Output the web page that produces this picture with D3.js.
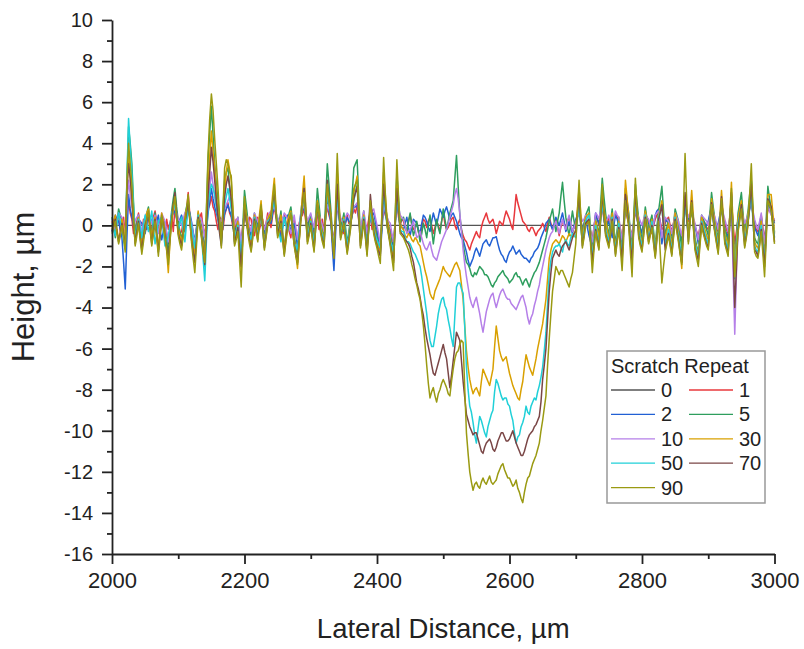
<!DOCTYPE html>
<html>
<head>
<meta charset="utf-8">
<script src="https://cdn.jsdelivr.net/npm/d3@7"></script>
<style>
  body { margin: 0; background: #fff; }
  svg { font-family: "Liberation Sans", Arial, sans-serif; }
</style>
</head>
<body>
<svg width="804" height="649"></svg>
<script>
// scan positions, every 2.5 um
const distance = d3.range(2000, 3000.1, 2.5);

const repeats = ['0', '1', '2', '5', '10', '30', '50', '70', '90'];
const colors = ['#555555', '#e8383d', '#2160d4', '#2e9e5e', '#b57fe8', '#d9a000', '#20d0d8', '#7a4646', '#9a9a12'];

// heights at 2000, 2005, 2010 ... 3000 um
const h0 = [
  0,0,0,0,0,0,0,0,0,0, 0,0,0,0,0,0,0,0,0,0,
  0,0,0,0,0,0,0,0,0,0, 0,0,0,0,0,0,0,0,0,0,
  0,0,0,0,0,0,0,0,0,0, 0,0,0,0,0,0,0,0,0,0,
  0,0,0,0,0,0,0,0,0,0, 0,0,0,0,0,0,0,0,0,0,
  0,0,0,0,0,0,0,0,0,0, 0,0,0,0,0,0,0,0,0,0,
  0,0,0,0,0,0,0,0,0,0, 0,0,0,0,0,0,0,0,0,0,
  0,0,0,0,0,0,0,0,0,0, 0,0,0,0,0,0,0,0,0,0,
  0,0,0,0,0,0,0,0,0,0, 0,0,0,0,0,0,0,0,0,0,
  0,0,0,0,0,0,0,0,0,0, 0,0,0,0,0,0,0,0,0,0,
  0,0,0,0,0,0,0,0,0,0, 0,0,0,0,0,0,0,0,0,0,
  0
];
const h1 = [
  0.2, -0.4, 0.5, 0.1, -0.6, 1.2, 0.3, -0.2, 0.6, -0.5,
  0.1, 0.4, -0.3, 0.7, -0.1, 0.3, -0.6, -0.2, 0.5, 0.9,
  0.2, -0.3, 0.4, 1.6, -0.4, -1.3, 0.2, 0.6, -0.5, 0.8,
  1.4, 0.7, -0.2, 0.3, 0.5, 1.1, 0.4, -0.3, 0.2, -0.8,
  0.6, -0.2, 0.3, -0.5, 0.4, 0.1, -0.3, 0.6, -0.1, 0.9,
  0.2, -0.4, 0.5, 0.0, -0.6, 0.3, -0.9, 0.4, 0.8, -0.2,
  0.3, -0.5, 0.6, 0.1, -0.3, 0.9, 0.2, -0.7, 1.0, 0.0,
  -0.4, 0.5, 0.2, 0.8, 1.0, -0.3, 0.4, -0.2, 0.6, 0.1,
  -0.5, -0.8, 0.9, 0.3, -0.2, -0.9, 1.1, 0.0, 0.2, -0.3,
  0.5, -0.2, 0.1, -0.6, 0.3, -0.1, 0.4, -0.4, 0.2, -0.3,
  0.6, -0.2, 0.1, 0.4, -0.2, 0.3, -0.5, -0.8, -1.2, -0.7,
  -0.3, -0.6, 0.2, 0.6, 0.1, 0.3, -0.4, 0.2, 0.0, 0.7,
  0.3, -0.2, 1.5, 0.8, 0.2, 0.0, -0.3, -0.1, -0.5, -0.2,
  0.1, -0.3, 0.4, -0.2, 0.3, -0.5, 0.2, -0.1, 0.4, -0.3,
  0.2, 0.6, -0.4, 0.3, 0.1, -0.7, 0.5, 0.0, 0.9, -0.2,
  0.4, -0.3, 0.6, 0.2, -0.6, 0.8, 0.1, -0.5, 0.7, 0.0,
  -0.3, 0.5, 0.2, -0.4, 0.3, 0.6, -0.2, 0.1, 0.4, -0.3,
  0.5, 0.0, -0.6, 0.9, 0.2, 0.6, -0.1, -0.5, 0.3, 0.1,
  -0.2, 0.7, 0.2, -0.3, 0.8, 0.1, -0.4, 1.2, -0.9, 0.3,
  0.6, -0.2, 0.4, 1.1, 0.0, -0.3, 0.5, -0.7, 0.8, 0.6,
  0.2
];
const h2 = [
  -0.3, 0.5, 0.2, -0.6, -3.1, 1.5, 0.4, -0.5, 0.3, 0.1,
  -0.4, 0.6, 0.2, -0.2, 0.5, -0.7, 0.1, -0.9, 0.4, 0.7,
  0.0, 0.5, -0.3, 0.9, 0.2, -0.8, 0.4, -0.2, -1.1, 0.6,
  1.8, 0.9, 0.3, -0.4, 0.6, 1.0, 0.5, -0.3, 0.1, -1.2,
  0.7, 0.2, -0.5, 0.4, 0.0, 0.6, -0.4, 0.3, 0.1, 1.0,
  0.3, -0.6, 0.2, 0.5, -0.3, 0.1, -1.0, 0.4, 0.9, 0.0,
  0.5, -0.2, 0.8, 0.2, -0.5, 1.2, 0.3, -2.2, 1.1, 0.2,
  -0.3, 0.4, 0.1, 0.9, 1.0, -0.4, 0.5, -0.6, 0.3, 0.6,
  -0.2, -1.4, 1.0, 0.2, -0.5, -1.0, 1.2, 0.1, -0.2, 0.4,
  -0.5, 0.3, 0.1, -0.4, 0.5, 0.2, -0.3, 0.6, 0.0, 0.8,
  0.4, 0.9, 0.3, 0.6, 0.2, -0.4, -0.7, -1.3, -2.0, -1.6,
  -1.1, -1.5, -0.9, -0.7, -1.0, -0.6, -0.55, -1.2, -1.5, -1.8,
  -1.3, -1.0, -1.4, -1.2, -1.5, -1.6, -1.8, -1.5, -1.2, -0.9,
  -0.4, 0.1, 0.3, -0.2, 0.4, 0.0, 0.6, -0.3, 0.2, -0.4,
  0.3, 0.8, -0.2, 0.4, -0.5, -1.1, 0.6, 0.1, 1.2, -0.3,
  0.2, -0.6, 0.5, 0.0, -1.0, 0.9, 0.3, -0.8, 1.0, 0.2,
  -0.4, 0.6, 0.1, -0.3, 0.5, 0.8, -0.9, 0.3, 0.2, -0.5,
  0.4, -0.2, -0.8, 1.1, 0.3, 0.7, 0.0, -0.9, 0.4, -0.1,
  0.2, 0.9, -0.3, 0.1, 0.8, -0.2, -0.6, 1.3, -1.8, 0.4,
  0.9, -0.4, 0.2, 1.4, -0.1, -0.5, 0.3, -1.2, 1.1, 0.7,
  0.1
];
const h5 = [
  0.4, -0.6, 0.8, 0.2, -1.0, 4.8, 3.0, -0.4, 0.5, -0.8,
  0.3, 0.9, -0.5, 0.6, -1.2, 0.4, 0.1, -1.4, 0.7, 1.8,
  0.2, -0.7, 0.5, 1.2, -0.3, -1.6, 0.6, 0.0, -2.0, 3.2,
  5.8, 3.0, 1.2, -0.6, 2.2, 2.8, 1.0, -0.8, 0.4, -1.7,
  1.7, 0.3, -0.9, 0.6, -0.2, 0.8, -0.7, 0.2, 0.5, 1.6,
  -0.4, 0.7, -1.1, 0.3, 0.9, -0.5, -1.5, 0.6, 2.0, -0.3,
  0.5, -0.8, 1.8, 0.2, -0.6, 3.0, 0.9, -1.3, 1.4, -0.2,
  0.6, -0.9, 0.3, 2.8, 3.2, -0.5, 0.7, -1.0, 0.9, 0.2,
  -0.6, -1.2, 1.4, 0.5, -0.4, -1.5, 2.5, 0.1, 0.4, -0.3,
  0.6, -0.5, 0.2, -0.8, 0.1, -0.6, 0.5, -0.9, 0.3, -0.4,
  0.8, -0.2, 0.6, 1.2, 3.4, 0.5, -0.9, -1.8, -2.1, -2.5,
  -2.4, -2.0, -2.2, -2.4, -2.7, -3.0, -2.7, -2.4, -2.2, -2.5,
  -2.8, -2.6, -2.3, -2.5, -2.9, -2.6, -3.0, -2.5, -2.2, -1.8,
  -1.2, -0.6, 0.2, 0.8, -0.3, 0.6, 2.1, 0.4, -0.5, 0.7,
  -0.2, 1.2, -0.6, 0.5, 0.9, -1.4, 0.3, -0.4, 2.3, 0.6,
  -0.5, 0.8, -0.9, 0.4, -1.5, 1.8, 0.6, -1.2, 2.0, 0.3,
  -0.7, 0.9, -0.2, 0.5, -1.0, 0.7, 1.9, -0.5, 0.3, -0.9,
  0.8, 0.2, -1.1, 1.4, -0.3, 0.9, -0.6, -1.3, 0.5, 0.1,
  -0.5, 1.6, 0.3, -0.7, 1.2, -0.2, -0.8, 1.5, -2.0, 0.6,
  1.6, -0.4, 0.7, 2.2, -0.6, -0.9, 0.4, -1.4, 1.9, 0.8,
  -0.3
];
const h10 = [
  0.3, -0.2, 0.6, 0.4, -0.5, 2.2, 0.9, 0.2, 0.5, -0.3,
  0.4, 0.7, 0.1, 0.5, -0.4, 0.6, 0.2, -0.8, 0.4, 0.9,
  0.3, 0.0, 0.6, 0.8, 0.1, -0.9, 0.5, 0.3, -0.6, 0.9,
  2.6, 1.4, 0.5, 0.2, 0.8, 1.2, 1.5, 0.0, 0.4, -0.9,
  0.8, 0.3, -0.3, 0.6, 0.2, 0.5, -0.2, 0.4, 0.7, 0.9,
  0.4, 0.0, 0.6, 0.3, -0.4, 0.5, -0.7, 0.6, 1.0, 0.2,
  0.6, -0.1, 0.8, 0.3, -0.3, 1.0, 0.5, -0.9, 0.9, 0.4,
  0.1, 0.6, 0.3, 0.9, 1.1, -0.2, 0.7, -0.4, 0.5, 0.8,
  0.0, -0.9, 1.0, 0.4, 0.1, -0.8, 1.2, 0.5, 0.3, -0.4,
  -0.2, 0.2, -0.6, -0.3, -0.9, -1.2, -0.8, -1.5, -1.7, -1.1,
  -0.6, -0.2, 0.4, 1.0, 1.8, 0.6, -1.2, -2.5, -3.5, -4.0,
  -3.5, -4.3, -5.2, -4.2, -3.6, -3.3, -4.0, -3.4, -3.1, -3.5,
  -3.6, -3.9, -4.1, -3.7, -3.4, -4.0, -4.8, -4.3, -3.6, -2.9,
  -2.0, -1.2, -0.6, -0.3, 0.2, -0.4, 0.3, -0.2, 0.5, -0.3,
  0.1, 0.7, 0.2, 0.5, 0.0, -0.8, 0.6, 0.3, 1.0, 0.2,
  0.5, -0.2, 0.7, 0.4, -0.7, 0.9, 0.3, -0.6, 0.8, 0.4,
  0.0, 0.6, 0.3, -0.3, 0.5, 0.7, -0.6, 0.4, 0.2, -0.4,
  0.6, 0.2, -0.5, 1.0, 0.4, 0.8, 0.1, -0.7, 0.5, 0.3,
  0.0, 0.8, 0.4, -0.2, 0.9, 0.3, -0.3, 1.0, -5.3, 0.2,
  0.7, 0.1, 0.5, 1.2, 0.3, -0.2, 0.6, -0.9, 0.9, 0.5,
  0.3
];
const h30 = [
  -0.2, 0.5, -0.7, 0.3, -0.9, 3.5, 1.2, -0.6, 0.4, -1.0,
  0.2, 0.8, -0.6, 0.4, -1.1, 0.6, -0.3, -2.3, 0.5, 1.2,
  -0.1, -0.8, 0.4, 1.0, -0.5, -1.4, 0.7, -0.2, -1.6, 1.8,
  4.6, 2.8, 0.6, -0.7, 1.6, 3.2, 2.2, -0.6, 0.2, -2.2,
  1.0, 0.1, -1.0, 0.5, -0.4, 1.2, -0.9, 0.3, 0.6, 2.3,
  -0.3, 0.5, -1.2, 0.2, 0.7, -0.6, -2.1, 0.4, 2.4, -0.5,
  0.3, -1.0, 1.2, 0.0, -0.7, 1.8, 0.6, -1.4, 2.6, -0.3,
  0.4, -1.1, 0.2, 1.6, 2.4, -0.7, 0.5, -1.2, 0.8, 0.0,
  -0.8, -1.3, 2.6, 0.4, -0.6, -1.7, 2.0, 0.1, -0.2, -0.6,
  -0.5, -0.8, -0.7, -1.0, -1.8, -2.5, -3.3, -3.6, -3.0, -2.6,
  -2.0, -2.3, -2.5, -2.1, -1.8, -2.2, -3.6, -6.1, -7.5, -8.2,
  -7.9, -8.3, -7.0, -7.4, -7.8, -7.0, -4.9, -6.1, -6.6, -6.4,
  -7.2, -7.8, -8.2, -8.5, -7.6, -6.3, -6.9, -7.3, -6.5, -5.6,
  -4.8, -3.6, -1.6, -0.9, -0.7, -0.9, -0.5, -0.8, -0.4, -0.6,
  -0.2, 1.8, -0.7, 0.4, 0.6, -1.5, 0.2, -0.6, 1.4, 0.3,
  -0.7, 0.6, -1.1, 0.2, -1.6, 2.2, 0.4, -1.4, 1.5, 0.0,
  -0.9, 0.7, -0.4, 0.3, -1.2, 0.5, 1.2, -0.7, 0.1, -1.0,
  0.6, -0.3, -2.1, 1.2, -0.5, 1.7, -0.8, -1.4, 0.4, -0.2,
  -0.7, 1.3, 0.1, -0.9, 1.7, -0.4, -1.0, 2.1, -2.2, 0.4,
  1.2, -0.6, 0.5, 1.8, -0.8, -1.1, 0.2, -1.6, 1.5, 1.5,
  -0.4
];
const h50 = [
  0.1, -0.5, 0.6, -0.2, -1.2, 5.2, 2.5, -0.7, 0.3, -0.6,
  0.5, -0.3, 0.7, -0.9, 0.2, 0.4, -1.0, -0.5, 0.6, 1.0,
  -0.2, 0.4, -0.8, 0.9, 0.0, -1.1, 0.5, -0.4, -2.7, 1.0,
  2.0, 1.5, 0.3, -0.9, 1.0, 1.8, 0.8, -0.6, 0.0, -1.5,
  0.9, -0.3, -0.7, 0.4, -0.5, 0.6, -1.0, 0.2, 0.3, 1.2,
  0.0, -0.8, 0.4, -0.3, 0.6, -0.9, -1.2, 0.5, 1.4, -0.6,
  0.2, -0.9, 0.9, -0.2, -0.8, 1.6, 0.3, -1.2, 1.5, -0.5,
  0.3, -1.0, 0.0, 1.2, 2.0, -0.8, 0.4, -1.1, 0.6, -0.2,
  -0.7, -1.1, 1.6, 0.0, -0.8, -1.3, 1.4, -0.2, -0.3, -0.8,
  -0.9, -1.3, -1.6, -2.0, -3.1, -4.3, -5.6, -5.9, -4.9, -3.9,
  -3.5, -4.1, -5.0, -5.9, -3.0, -2.8, -3.3, -6.9, -8.8, -9.6,
  -10.6, -9.3, -9.8, -10.3, -9.5, -9.0, -7.5, -8.0, -8.5, -8.4,
  -8.8, -9.5, -10.6, -10.2, -9.6, -8.8, -9.2, -8.6, -8.5, -7.8,
  -6.9, -5.2, -2.3, -1.3, -1.0, -0.9, -1.3, -0.7, -1.0, -0.4,
  -0.6, 0.9, -0.8, 0.2, 0.5, -1.6, 0.0, -0.9, 1.1, -0.2,
  -0.8, 0.4, -1.2, 0.1, -1.4, 1.3, 0.2, -1.3, 1.2, -0.3,
  -1.0, 0.5, -0.6, 0.2, -1.3, 0.4, 0.9, -1.0, -0.2, -1.2,
  0.4, -0.5, -1.5, 1.1, -0.6, 1.0, -0.9, -1.5, 0.2, -0.4,
  -0.9, 1.0, -0.1, -1.1, 1.2, -0.6, -1.2, 1.4, -2.6, 0.1,
  0.9, -0.8, 0.3, 1.5, -1.0, -1.3, 0.0, -1.8, 1.2, 0.8,
  -0.6
];
const h70 = [
  -0.3, 0.3, -0.8, 0.1, -1.1, 3.0, 1.4, -0.9, 0.2, -1.2,
  0.0, 0.6, -0.9, 0.3, -1.3, 0.4, -0.5, -1.6, 0.3, 1.6,
  -0.4, -1.0, 0.2, 1.1, -0.7, -1.8, 0.4, -0.5, -1.9, 1.5,
  3.8, 2.2, 0.4, -1.0, 1.4, 2.4, 1.3, -0.9, -0.1, -2.0,
  0.8, -0.2, -1.2, 0.3, -0.7, 0.9, -1.1, 0.1, 0.4, 1.7,
  -0.5, 0.2, -1.4, 0.0, 0.5, -0.9, -1.8, 0.3, 1.8, -0.8,
  0.1, -1.2, 1.0, -0.3, -1.0, 2.2, 0.4, -1.6, 2.0, -0.6,
  0.2, -1.3, -0.1, 1.3, 1.9, -1.0, 0.3, -1.4, 1.5, -0.3,
  -1.0, -1.5, 2.0, 0.1, -0.9, -1.8, 1.8, -0.3, -0.5, -0.8,
  -1.1, -1.8, -2.8, -3.5, -4.4, -5.5, -6.3, -7.2, -7.0, -6.4,
  -5.8, -6.5, -7.9, -6.6, -5.2, -5.6, -7.6, -9.2, -9.8, -10.2,
  -10.1, -10.7, -11.1, -10.6, -10.4, -10.9, -10.8, -10.3, -10.1, -10.5,
  -10.4, -10.0, -10.6, -11.0, -11.2, -10.7, -10.2, -10.0, -9.7, -9.3,
  -7.5, -6.0, -3.2, -1.6, -1.2, -1.5, -1.0, -0.8, -1.2, -0.6,
  -0.3, 1.4, -1.0, 0.1, 0.3, -1.8, -0.2, -1.1, 1.6, -0.4,
  -1.0, 0.3, -1.4, -0.1, -1.7, 1.5, 0.0, -1.8, 1.7, -0.5,
  -1.2, 0.4, -0.8, 0.0, -1.5, 0.3, 1.0, -1.2, -0.4, -1.4,
  0.3, -0.7, -1.8, 1.6, -0.8, 1.2, -1.1, -1.7, 0.1, -0.6,
  -1.1, 1.1, -0.3, -1.3, 1.4, -0.8, -1.4, 1.6, -4.0, -0.2,
  1.0, -1.0, 0.1, 2.0, -1.2, -1.5, -0.2, -2.0, 1.3, 0.9,
  -0.8
];
const h90 = [
  -0.4, 0.2, -0.9, 0.0, -1.3, 4.0, 2.0, -1.0, 0.1, -1.4,
  -0.2, 0.7, -1.0, 0.2, -1.5, 0.5, -0.6, -1.9, 0.2, 1.4,
  -0.5, -1.2, 0.1, 1.5, -0.8, -2.3, 0.3, -0.6, -1.8, 3.5,
  6.4, 4.2, 1.8, -1.1, 2.8, 3.0, 2.4, -1.0, -0.3, -3.0,
  1.4, -0.4, -1.3, 0.2, -0.8, 1.0, -1.2, 0.0, 0.3, 2.0,
  -0.6, 0.1, -1.5, -0.2, 0.6, -1.0, -1.9, 0.2, 1.6, -0.9,
  0.0, -1.3, 1.1, -0.4, -1.1, 2.0, 0.5, -1.6, 3.5, -0.7,
  0.1, -1.4, -0.2, 1.8, 2.2, -1.1, 0.2, -1.5, 1.2, -0.4,
  -1.1, -1.85, 3.3, 0.0, -1.0, -2.2, 3.2, -0.4, -0.6, -1.0,
  -1.5, -2.2, -2.9, -3.6, -4.9, -6.8, -8.4, -7.9, -8.6, -8.0,
  -7.5, -7.9, -8.3, -7.0, -6.2, -5.8, -5.7, -10.1, -12.0, -12.9,
  -12.5, -12.8, -12.3, -12.6, -12.2, -12.6, -12.4, -11.9, -11.6, -12.1,
  -12.3, -12.7, -12.4, -13.0, -13.5, -12.6, -12.2, -11.6, -11.2, -10.6,
  -9.5, -8.3, -5.5, -3.2, -2.0, -2.4, -2.2, -2.6, -3.0, -2.3,
  -0.9, 2.2, -1.1, 0.0, 0.2, -2.3, -0.3, -1.2, 2.0, -0.5,
  -1.1, 0.2, -1.5, -0.2, -2.2, 1.2, -0.1, -2.5, 2.3, -0.6,
  -1.3, 0.3, -0.9, -0.1, -1.6, 0.2, -2.8, -1.3, -0.5, -1.5,
  0.2, -0.8, -1.9, 3.5, -0.9, 1.1, -1.2, -2.0, 0.0, -0.7,
  -1.2, 1.0, -0.4, -1.4, 1.3, -0.9, -1.5, 1.8, -2.5, -0.3,
  0.8, -1.1, 0.0, 3.0, -1.3, -1.6, -0.3, -2.5, 1.2, 0.7,
  -0.9
];

// heights at the in-between positions 2002.5, 2007.5 ... 2997.5 um
const h0b = [
  0,0,0,0,0,0,0,0,0,0, 0,0,0,0,0,0,0,0,0,0,
  0,0,0,0,0,0,0,0,0,0, 0,0,0,0,0,0,0,0,0,0,
  0,0,0,0,0,0,0,0,0,0, 0,0,0,0,0,0,0,0,0,0,
  0,0,0,0,0,0,0,0,0,0, 0,0,0,0,0,0,0,0,0,0,
  0,0,0,0,0,0,0,0,0,0, 0,0,0,0,0,0,0,0,0,0,
  0,0,0,0,0,0,0,0,0,0, 0,0,0,0,0,0,0,0,0,0,
  0,0,0,0,0,0,0,0,0,0, 0,0,0,0,0,0,0,0,0,0,
  0,0,0,0,0,0,0,0,0,0, 0,0,0,0,0,0,0,0,0,0,
  0,0,0,0,0,0,0,0,0,0, 0,0,0,0,0,0,0,0,0,0,
  0,0,0,0,0,0,0,0,0,0, 0,0,0,0,0,0,0,0,0,0
];
const h1b = [
  -0.1, 0.3, -0.3, 0.4, 0.5, 0.6, -0.4, 0.2, -0.1, 0.3,
  -0.2, 0.1, 0.4, 0.2, -0.5, 0.0, 0.3, 0.1, -0.3, 0.4,
  -0.4, 0.2, 0.7, 0.5, -0.6, -0.2, 0.4, -0.1, 0.3, 1.0,
  0.9, 0.2, 0.4, -0.2, 0.8, 0.6, -0.1, 0.3, -0.4, 0.1,
  0.2, 0.4, -0.3, 0.2, -0.2, 0.3, 0.1, 0.2, 0.5, 0.4,
  -0.2, 0.3, 0.1, -0.3, 0.2, -0.4, 0.1, 0.5, 0.2, 0.3,
  -0.1, 0.4, -0.2, 0.3, 0.4, 0.5, -0.3, 0.2, 0.4, -0.3,
  0.2, 0.1, 0.5, 0.6, 0.2, 0.1, 0.0, 0.3, -0.2, -0.1,
  -0.7, 0.1, 0.5, -0.1, -0.5, 0.2, 0.4, 0.3, -0.1, 0.2,
  0.1, -0.1, -0.3, -0.1, 0.2, 0.2, 0.0, -0.1, 0.0, 0.2,
  0.1, -0.1, 0.3, 0.0, 0.1, -0.2, -0.7, -1.0, -0.9, -0.5,
  -0.5, -0.1, 0.4, 0.3, 0.2, 0.0, -0.1, 0.1, 0.4, 0.5,
  0.0, 0.6, 1.1, 0.5, 0.1, -0.2, -0.1, -0.3, -0.3, -0.1,
  -0.1, 0.1, 0.1, 0.0, -0.1, -0.1, 0.1, 0.2, 0.0, -0.1,
  0.4, 0.1, 0.0, 0.2, -0.3, -0.1, 0.3, 0.5, 0.3, 0.1,
  0.0, 0.2, 0.4, -0.2, 0.1, 0.4, -0.2, 0.1, 0.3, -0.2,
  0.1, 0.4, -0.1, 0.0, 0.5, 0.2, -0.1, 0.3, 0.0, 0.1,
  0.2, -0.3, 0.2, 0.5, 0.4, 0.2, -0.3, -0.1, 0.2, -0.1,
  0.3, 0.4, -0.1, 0.3, 0.4, -0.2, 0.4, 0.1, -0.3, 0.5,
  0.2, 0.1, 0.8, 0.5, -0.2, 0.1, -0.1, 0.1, 0.7, 0.4
];
const h2b = [
  0.1, 0.3, -0.2, -1.8, -0.6, 0.8, 0.0, -0.1, 0.2, -0.2,
  0.1, 0.4, 0.0, 0.2, -0.2, -0.3, -0.4, -0.2, 0.6, 0.3,
  0.3, 0.1, 0.3, 0.6, -0.3, -0.1, 0.1, -0.6, -0.2, 1.2,
  1.3, 0.6, -0.1, 0.1, 0.8, 0.7, 0.1, -0.1, -0.5, -0.2,
  0.4, -0.2, 0.0, 0.2, 0.3, 0.1, 0.0, 0.2, 0.6, 0.6,
  -0.2, -0.1, 0.4, 0.1, -0.1, -0.4, -0.2, 0.7, 0.4, 0.3,
  0.1, 0.3, 0.5, -0.1, 0.4, 0.7, -1.0, -0.4, 0.6, -0.1,
  0.1, 0.2, 0.5, 0.9, 0.3, 0.0, -0.1, -0.1, 0.5, 0.2,
  -0.8, -0.2, 0.6, -0.2, -0.8, 0.1, 0.6, -0.1, 0.1, -0.1,
  -0.1, 0.2, -0.2, 0.1, 0.4, -0.1, 0.2, 0.3, 0.4, 0.6,
  0.7, 0.6, 0.5, 0.4, -0.1, -0.6, -1.0, -1.7, -1.8, -1.3,
  -1.3, -1.2, -0.8, -0.9, -0.8, -0.6, -0.9, -1.4, -1.7, -1.5,
  -1.2, -1.2, -1.3, -1.4, -1.6, -1.7, -1.6, -1.3, -1.1, -0.6,
  -0.2, 0.2, 0.0, 0.1, 0.2, 0.3, 0.2, -0.1, -0.1, 0.0,
  0.5, 0.3, 0.1, -0.1, -0.8, -0.2, 0.3, 0.6, 0.4, 0.0,
  -0.2, 0.0, 0.3, -0.5, -0.1, 0.6, -0.3, 0.1, 0.6, -0.1,
  0.1, 0.3, -0.1, 0.1, 0.7, -0.1, -0.3, 0.2, -0.2, 0.0,
  0.1, -0.5, 0.1, 0.7, 0.5, 0.3, -0.4, -0.2, 0.1, 0.0,
  0.6, 0.2, -0.1, 0.5, 0.3, -0.4, 0.3, -0.3, -0.7, 0.7,
  0.2, -0.1, 0.8, 0.6, -0.3, -0.1, -0.5, -0.1, 0.9, 0.4
];
const h5b = [
  -0.1, 0.2, 0.5, -0.4, 2.0, 4.0, 1.1, 0.0, -0.2, -0.2,
  0.6, 0.2, 0.1, -0.3, -0.4, 0.3, -0.7, -0.3, 1.3, 0.9,
  -0.3, -0.1, 0.9, 0.4, -0.9, -0.5, 0.3, -1.0, 0.6, 4.5,
  4.4, 2.0, 0.3, 0.8, 2.6, 1.9, 0.1, -0.2, -0.6, 0.0,
  1.0, -0.4, -0.1, 0.2, 0.3, 0.0, -0.3, 0.4, 1.1, 0.6,
  0.2, -0.3, -0.4, 0.6, 0.2, -1.0, -0.4, 1.3, 0.8, 0.1,
  -0.2, 0.5, 1.0, -0.2, 1.2, 2.0, -0.2, 0.0, 0.6, 0.2,
  -0.1, -0.3, 1.5, 3.0, 1.3, 0.1, -0.2, 0.0, 0.5, -0.2,
  -0.9, 0.1, 0.9, 0.0, -1.0, 0.5, 1.3, 0.3, 0.0, 0.2,
  0.0, -0.2, -0.3, -0.4, -0.2, 0.0, -0.2, -0.3, -0.1, 0.2,
  0.3, 0.2, 0.9, 2.3, 1.9, -0.2, -1.4, -1.9, -2.4, -2.3,
  -2.2, -2.1, -2.4, -2.5, -2.9, -2.8, -2.5, -2.3, -2.4, -2.6,
  -2.7, -2.4, -2.5, -2.7, -2.7, -2.8, -2.7, -2.3, -2.0, -1.5,
  -0.9, -0.2, 0.5, 0.2, 0.2, 1.4, 1.2, -0.1, 0.1, 0.2,
  0.5, 0.3, 0.0, 0.7, -0.3, -0.5, -0.1, 1.0, 1.4, 0.0,
  0.2, -0.1, -0.2, -0.6, 0.2, 1.2, -0.3, 0.4, 1.1, -0.3,
  0.1, 0.3, 0.2, -0.3, -0.1, 1.3, 0.7, -0.1, -0.3, 0.0,
  0.5, -0.5, 0.2, 0.5, 0.3, 0.1, -1.0, -0.4, 0.3, -0.2,
  0.6, 0.9, -0.2, 0.3, 0.5, -0.5, 0.4, -0.3, -0.7, 1.1,
  0.6, 0.2, 1.5, 0.8, -0.8, -0.2, -0.5, 0.3, 1.3, 0.2
];
const h10b = [
  0.1, 0.2, 0.5, 0.0, 0.9, 1.5, 0.5, 0.4, 0.1, 0.1,
  0.6, 0.4, 0.3, 0.1, 0.1, 0.4, -0.3, -0.2, 0.7, 0.6,
  0.2, 0.3, 0.7, 0.4, -0.4, -0.2, 0.4, -0.1, 0.2, 1.8,
  2.0, 0.9, 0.3, 0.5, 1.0, 1.4, 0.7, 0.2, -0.2, -0.1,
  0.5, 0.0, 0.2, 0.4, 0.3, 0.1, 0.1, 0.6, 0.8, 0.6,
  0.2, 0.3, 0.5, -0.1, 0.1, -0.1, 0.0, 0.8, 0.6, 0.4,
  0.2, 0.4, 0.5, 0.0, 0.4, 0.8, -0.2, 0.0, 0.7, 0.2,
  0.4, 0.5, 0.6, 1.0, 0.5, 0.3, 0.2, 0.1, 0.7, 0.4,
  -0.4, 0.1, 0.7, 0.2, -0.4, 0.2, 0.9, 0.4, 0.0, -0.3,
  0.0, -0.2, -0.5, -0.6, -1.1, -1.0, -1.2, -1.6, -1.4, -0.8,
  -0.4, 0.1, 0.7, 1.5, 1.3, -0.3, -1.9, -3.0, -3.8, -3.7,
  -3.9, -4.8, -4.7, -3.9, -3.4, -3.7, -3.7, -3.2, -3.3, -3.6,
  -3.8, -4.0, -3.9, -3.5, -3.7, -4.5, -4.5, -3.9, -3.2, -2.4,
  -1.6, -0.9, -0.4, 0.0, -0.1, 0.0, 0.0, 0.2, 0.1, -0.1,
  0.4, 0.5, 0.3, 0.2, -0.4, -0.1, 0.5, 0.7, 0.6, 0.3,
  0.1, 0.3, 0.5, -0.2, 0.1, 0.6, -0.2, 0.1, 0.6, 0.2,
  0.3, 0.4, 0.0, 0.1, 0.6, 0.1, -0.1, 0.3, -0.1, 0.1,
  0.4, -0.2, 0.3, 0.7, 0.6, 0.4, -0.3, -0.1, 0.4, 0.2,
  0.4, 0.6, 0.1, 0.4, 0.6, 0.0, 0.3, -2.2, -2.4, 0.4,
  0.4, 0.3, 0.9, 0.7, 0.0, 0.2, -0.2, 0.1, 0.7, 0.4
];
const h30b = [
  0.2, -0.2, -0.3, -0.1, 1.8, 2.4, 0.1, -0.2, -0.4, -0.3,
  0.6, 0.1, -0.1, -0.4, -0.2, 0.2, -1.2, -0.8, 1.0, 0.4,
  -0.5, -0.2, 0.8, 0.3, -1.0, -0.3, 0.2, -0.9, 0.2, 3.4,
  3.6, 1.5, -0.2, 0.5, 2.6, 2.7, 0.8, -0.3, -1.0, -0.5,
  0.6, -0.5, -0.3, 0.0, 0.5, 0.1, -0.3, 0.5, 1.5, 0.9,
  0.1, -0.4, -0.5, 0.5, 0.0, -1.4, -0.8, 1.5, 0.9, -0.1,
  -0.4, 0.1, 0.6, -0.4, 0.5, 1.2, -0.5, 0.6, 1.1, 0.0,
  -0.4, -0.5, 0.9, 2.0, 0.8, -0.1, -0.4, -0.2, 0.4, -0.4,
  -1.1, 0.6, 1.5, -0.1, -1.2, 0.2, 1.0, -0.1, -0.5, -0.4,
  -0.7, -0.6, -0.9, -1.4, -2.2, -2.9, -3.5, -3.2, -2.8, -2.3,
  -2.2, -2.4, -2.3, -1.9, -2.0, -2.9, -4.9, -6.9, -7.9, -8.0,
  -8.1, -7.6, -7.2, -7.6, -7.4, -5.9, -5.5, -6.4, -6.5, -6.8,
  -7.5, -8.0, -8.4, -8.0, -6.9, -6.6, -7.1, -6.9, -6.0, -5.2,
  -4.2, -2.6, -1.2, -0.8, -0.8, -0.7, -0.6, -0.6, -0.5, -0.4,
  0.8, 0.6, -0.1, 0.5, -0.5, -0.6, -0.2, 0.4, 0.8, -0.2,
  -0.1, -0.3, -0.4, -0.7, 0.3, 1.3, -0.5, 0.0, 0.8, -0.5,
  -0.1, 0.2, -0.1, -0.5, -0.3, 0.8, 0.3, -0.3, -0.4, -0.2,
  0.2, -1.2, -0.5, 0.4, 0.6, 0.5, -1.1, -0.5, 0.1, -0.5,
  0.3, 0.7, -0.4, 0.4, 0.6, -0.7, 0.5, -0.1, -0.9, 0.8,
  0.3, 0.0, 1.2, 0.5, -1.0, -0.5, -0.7, -0.1, 1.5, 0.6
];
const h50b = [
  -0.2, 0.1, 0.2, -0.7, 2.3, 3.8, 0.9, -0.2, -0.1, 0.0,
  0.1, 0.2, -0.1, -0.4, 0.3, -0.3, -0.8, 0.0, 0.8, 0.4,
  0.1, -0.2, 0.1, 0.4, -0.6, -0.3, 0.0, -1.6, -0.8, 1.6,
  1.8, 0.9, -0.3, 0.1, 1.4, 1.3, 0.1, -0.3, -0.7, -0.3,
  0.3, -0.5, -0.1, -0.1, 0.0, -0.2, -0.4, 0.3, 0.8, 0.6,
  -0.4, -0.2, 0.0, 0.2, -0.2, -1.0, -0.3, 0.9, 0.4, -0.2,
  -0.3, 0.0, 0.3, -0.5, 0.4, 1.0, -0.4, 0.1, 0.5, -0.1,
  -0.3, -0.5, 0.6, 1.6, 0.6, -0.2, -0.3, -0.2, 0.2, -0.5,
  -0.9, 0.2, 0.8, -0.4, -1.0, 0.0, 0.6, -0.3, -0.6, -0.8,
  -1.1, -1.4, -1.8, -2.5, -3.7, -5.0, -5.9, -5.4, -4.3, -3.6,
  -3.9, -4.6, -5.5, -4.4, -2.8, -3.1, -5.0, -8.0, -9.1, -10.2,
  -9.9, -9.5, -10.1, -9.8, -9.2, -8.1, -7.7, -8.3, -8.4, -8.7,
  -9.2, -10.1, -10.3, -9.8, -9.3, -9.1, -8.8, -8.4, -8.1, -7.4,
  -6.1, -3.8, -1.7, -1.1, -1.0, -1.1, -0.9, -0.9, -0.6, -0.5,
  0.3, 0.0, -0.3, 0.4, -0.6, -0.7, -0.5, 0.2, 0.4, -0.5,
  -0.2, -0.5, -0.5, -0.7, -0.1, 0.7, -0.6, -0.1, 0.4, -0.7,
  -0.2, -0.1, -0.3, -0.6, -0.5, 0.7, -0.1, -0.6, -0.7, -0.4,
  -0.1, -1.0, -0.2, 0.3, 0.2, 0.1, -1.2, -0.6, -0.1, -0.7,
  0.1, 0.4, -0.6, 0.1, 0.3, -0.9, 0.1, -0.6, -1.2, 0.5,
  0.0, -0.3, 0.9, 0.2, -1.2, -0.6, -0.9, -0.3, 1.0, 0.1
];
const h70b = [
  0.0, -0.3, -0.4, -0.5, 1.7, 2.3, 0.2, -0.3, -0.6, -0.6,
  0.3, -0.2, -0.3, -0.5, -0.5, 0.0, -1.1, -0.6, 1.0, 0.5,
  -0.7, -0.4, 0.6, 0.2, -1.3, -0.7, 0.0, -1.2, -0.2, 2.6,
  3.1, 1.2, -0.4, 0.2, 2.0, 1.9, 0.2, -0.5, -1.1, -0.6,
  0.3, -0.7, -0.5, -0.2, 0.1, -0.1, -0.5, 0.2, 1.1, 0.6,
  -0.1, -0.6, -0.7, 0.3, -0.2, -1.4, -0.7, 1.0, 0.5, -0.4,
  -0.6, -0.1, 0.4, -0.7, 0.6, 1.3, -0.6, 0.2, 0.7, -0.3,
  -0.6, -0.7, 0.6, 1.6, 0.4, -0.4, -0.5, 0.0, 0.6, -0.7,
  -1.3, 0.3, 1.1, -0.4, -1.4, 0.0, 0.8, -0.4, -0.7, -0.9,
  -1.5, -2.3, -3.1, -4.0, -5.0, -5.9, -6.8, -7.3, -6.7, -6.1,
  -6.2, -7.2, -7.3, -5.9, -5.4, -6.6, -8.4, -9.5, -10.0, -10.1,
  -10.4, -11.0, -10.8, -10.5, -10.6, -11.0, -10.5, -10.1, -10.3, -10.5,
  -10.2, -10.3, -10.8, -11.2, -11.0, -10.4, -10.1, -9.8, -9.5, -8.6,
  -6.8, -4.6, -2.3, -1.4, -1.4, -1.2, -0.9, -1.0, -0.9, -0.4,
  0.6, 0.2, -0.5, 0.2, -0.8, -1.0, -0.7, 0.3, 0.6, -0.7,
  -0.4, -0.6, -0.7, -0.9, -0.1, 0.8, -0.9, -0.1, 0.6, -0.9,
  -0.4, -0.2, -0.4, -0.8, -0.6, 0.6, -0.1, -0.8, -0.9, -0.5,
  -0.2, -1.3, -0.1, 0.4, 0.2, 0.0, -1.4, -0.8, -0.3, -0.9,
  0.0, 0.4, -0.8, 0.0, 0.3, -1.1, 0.1, -1.2, -2.1, 0.4,
  0.0, -0.5, 1.0, 0.4, -1.3, -0.9, -1.1, -0.4, 1.1, 0.0
];
const h90b = [
  -0.1, -0.4, -0.5, -0.6, 2.2, 3.0, 0.4, -0.5, -0.7, -0.8,
  0.3, -0.2, -0.4, -0.6, -0.5, -0.1, -1.2, -0.8, 0.8, 0.4,
  -0.9, -0.5, 0.8, 0.3, -1.6, -1.0, -0.1, -1.3, 0.8, 5.2,
  5.6, 3.0, 0.4, 0.8, 3.2, 2.6, 0.7, -0.7, -1.7, -0.8,
  0.5, -0.9, -0.6, -0.3, 0.1, -0.1, -0.6, 0.1, 1.2, 0.7,
  -0.3, -0.7, -0.8, 0.2, -0.2, -1.5, -0.8, 0.9, 0.4, -0.5,
  -0.7, -0.1, 0.4, -0.8, 0.5, 1.2, -0.6, 1.0, 1.4, -0.3,
  -0.7, -0.8, 0.8, 2.0, 0.6, -0.5, -0.6, -0.2, 0.4, -0.8,
  -1.5, 0.8, 1.6, -0.5, -1.6, 0.5, 1.4, -0.5, -0.8, -1.2,
  -1.9, -2.6, -3.3, -4.2, -5.8, -7.7, -8.1, -8.3, -8.2, -7.7,
  -7.7, -8.2, -7.6, -6.5, -6.1, -5.6, -8.0, -11.1, -12.5, -12.6,
  -12.7, -12.5, -12.5, -12.4, -12.5, -12.5, -12.1, -11.7, -11.9, -12.3,
  -12.5, -12.6, -12.8, -13.3, -13.0, -12.3, -11.9, -11.4, -10.9, -10.0,
  -8.9, -6.8, -4.3, -2.6, -2.2, -2.2, -2.4, -2.8, -2.6, -1.6,
  0.6, 0.4, -0.6, 0.1, -1.0, -1.2, -0.8, 0.4, 0.7, -0.8,
  -0.4, -0.6, -0.8, -1.2, -0.5, 0.5, -1.3, -0.1, 0.8, -1.0,
  -0.5, -0.3, -0.5, -0.9, -0.7, -1.3, -2.0, -0.9, -1.0, -0.6,
  -0.3, -1.4, 0.8, 1.2, 0.1, -0.1, -1.6, -1.0, -0.4, -1.0,
  -0.1, 0.3, -0.9, -0.1, 0.2, -1.2, 0.1, -0.4, -1.4, 0.2,
  -0.2, -0.6, 1.5, 0.8, -1.5, -1.0, -1.4, -0.7, 1.0, -0.1
];

// full traces: each 5 um sample followed by its in-between sample
function weave(a, b) {
  return a.flatMap((v, i) => i < b.length ? [v, b[i]] : [v]);
}
const heights = [
  weave(h0, h0b), weave(h1, h1b), weave(h2, h2b), weave(h5, h5b), weave(h10, h10b),
  weave(h30, h30b), weave(h50, h50b), weave(h70, h70b), weave(h90, h90b)
];

const xTicks = [2000, 2200, 2400, 2600, 2800, 3000];
const xMinor = [2100, 2300, 2500, 2700, 2900];
const yTicks = [-16, -14, -12, -10, -8, -6, -4, -2, 0, 2, 4, 6, 8, 10];
const yMinor = [-15, -13, -11, -9, -7, -5, -3, -1, 1, 3, 5, 7, 9];

const margin = {top: 20, right: 29.5, bottom: 95, left: 112};
const W = 804, H = 649;
const w = W - margin.left - margin.right;
const h = H - margin.top - margin.bottom;

const svg = d3.select('svg');
const g = svg.append('g').attr('transform', `translate(${margin.left},${margin.top})`);

const x = d3.scaleLinear().domain([2000, 3000]).range([0, w]);
const y = d3.scaleLinear().domain([-16, 10]).range([h, 0]);

const line = d3.line()
  .x((d, i) => x(distance[i]))
  .y(d => y(d));

g.selectAll('.trace')
  .data(heights)
  .enter()
  .append('path')
  .attr('class', 'trace')
  .attr('d', d => line(d))
  .attr('fill', 'none')
  .attr('stroke', (d, i) => colors[i])
  .attr('stroke-width', (d, i) => i === 0 ? 1.1 : 1.5)
  .attr('stroke-linejoin', 'round');

// axes
const axisColor = '#222';
const plain = d => String(d);   // hyphen minus like the original

const xAxis = g.append('g').attr('transform', `translate(0,${h})`)
  .call(d3.axisBottom(x).tickValues(xTicks).tickFormat(plain).tickSize(10).tickSizeOuter(0).tickPadding(8));
g.append('g').attr('transform', `translate(0,${h})`)
  .call(d3.axisBottom(x).tickValues(xMinor).tickFormat('').tickSize(5).tickSizeOuter(0))
  .select('.domain').remove();

const yAxis = g.append('g')
  .call(d3.axisLeft(y).tickValues(yTicks).tickFormat(plain).tickSize(10).tickSizeOuter(0).tickPadding(9));
g.append('g')
  .call(d3.axisLeft(y).tickValues(yMinor).tickFormat('').tickSize(5).tickSizeOuter(0))
  .select('.domain').remove();

g.selectAll('.domain, .tick line').attr('stroke', axisColor).attr('stroke-width', 1.8);
xAxis.selectAll('text').attr('font-size', 22).attr('fill', '#222').style('font-family', '"Liberation Sans", Arial, sans-serif');
yAxis.selectAll('text').attr('font-size', 20).attr('fill', '#222').style('font-family', '"Liberation Sans", Arial, sans-serif');

// axis titles
svg.append('text')
  .attr('x', margin.left + w / 2)
  .attr('y', 638)
  .attr('text-anchor', 'middle')
  .attr('font-size', 27.5)
  .attr('fill', '#222')
  .text('Lateral Distance, \u00b5m');

svg.append('text')
  .attr('transform', `translate(34,${margin.top + h / 2}) rotate(-90)`)
  .attr('text-anchor', 'middle')
  .attr('font-size', 31)
  .attr('fill', '#222')
  .text('Height, \u00b5m');

// legend
const legend = svg.append('g');
legend.append('rect')
  .attr('x', 607).attr('y', 351)
  .attr('width', 158).attr('height', 152)
  .attr('fill', '#fff')
  .attr('stroke', '#999')
  .attr('stroke-width', 1.5);
legend.append('text')
  .attr('x', 611).attr('y', 373)
  .attr('font-size', 20)
  .attr('fill', '#222')
  .text('Scratch Repeat');

const items = legend.selectAll('.item')
  .data(repeats)
  .enter()
  .append('g')
  .attr('class', 'item')
  .attr('transform', (d, i) => `translate(${i % 2 ? 689 : 611},${390 + Math.floor(i / 2) * 24.4})`);
items.append('line')
  .attr('x1', 0).attr('x2', 44)
  .attr('stroke', (d, i) => colors[i])
  .attr('stroke-width', 1.3);
items.append('text')
  .attr('x', 50)
  .attr('dy', '0.35em')
  .attr('font-size', 20)
  .attr('fill', '#222')
  .text(d => d);
</script>
</body>
</html>
